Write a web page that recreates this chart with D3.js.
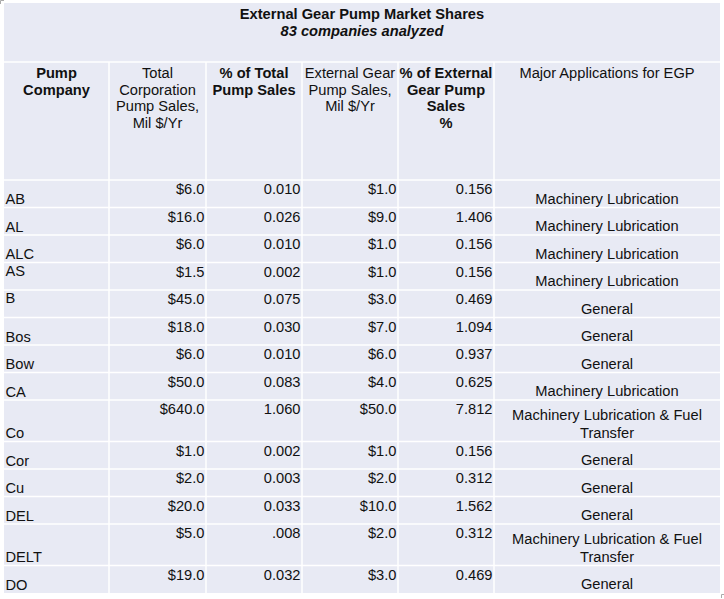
<!DOCTYPE html>
<html>
<head>
<meta charset="utf-8">
<script src="https://cdn.jsdelivr.net/npm/d3@7/dist/d3.min.js"></script>
<style>
  html, body { margin: 0; padding: 0; background: #fff; }
  svg { display: block; }
  text { font-family: "Liberation Sans", Arial, sans-serif; fill: #111; }
</style>
</head>
<body>
<svg id="chart" width="724" height="599"></svg>
<script>
// ---------- data ----------
const titleLines = ["External Gear Pump Market Shares", "83 companies analyzed"];
const headerLines = [
  ["Pump", "Company"],
  ["Total", "Corporation", "Pump Sales,", "Mil $/Yr"],
  ["% of Total", "Pump Sales"],
  ["External Gear", "Pump Sales,", "Mil $/Yr"],
  ["% of External", "Gear Pump", "Sales", "%"],
  ["Major Applications for EGP"]
];
const companies = ["AB", "AL", "ALC", "AS", "B", "Bos", "Bow", "CA", "Co", "Cor", "Cu", "DEL", "DELT", "DO"];
const totalSales = [6.0, 16.0, 6.0, 1.5, 45.0, 18.0, 6.0, 50.0, 640.0, 1.0, 2.0, 20.0, 5.0, 19.0];
const pctTotal = [0.010, 0.026, 0.010, 0.002, 0.075, 0.030, 0.010, 0.083, 1.060, 0.002, 0.003, 0.033, 0.008, 0.032];
const egpSales = [1.0, 9.0, 1.0, 1.0, 3.0, 7.0, 6.0, 4.0, 50.0, 1.0, 2.0, 10.0, 2.0, 3.0];
const pctEgp = [0.156, 1.406, 0.156, 0.156, 0.469, 1.094, 0.937, 0.625, 7.812, 0.156, 0.312, 1.562, 0.312, 0.469];
const applications = [
  "Machinery Lubrication", "Machinery Lubrication", "Machinery Lubrication", "Machinery Lubrication",
  "General", "General", "General", "Machinery Lubrication",
  "Machinery Lubrication & Fuel Transfer", "General", "General", "General",
  "Machinery Lubrication & Fuel Transfer", "General"
];

(function () {
// ---------- layout ----------
const svg = d3.select("#chart");
const FS = 14.67;
const xLeft = 4, xRight = 720, yTop = 3, titleBottom = 62, headerBottom = 180;
const colWidths = [105, 97, 96, 96, 96, 226];
const colEdges = [xLeft, ...d3.cumsum(colWidths).map(v => v + xLeft)];
const bg = "#E8EAF4";

// wrap helper using measured widths
const meas = svg.append("text").attr("font-size", FS).attr("visibility", "hidden");
function textW(s) { meas.text(s); return meas.node().getComputedTextLength(); }
function wrap(s, maxW) {
  const words = s.split(" "); const lines = []; let cur = "";
  words.forEach(w => {
    const t = cur ? cur + " " + w : w;
    if (textW(t) > maxW && cur) { lines.push(cur); cur = w; } else cur = t;
  });
  if (cur) lines.push(cur);
  return lines;
}

const rows = companies.map((c, i) => ({
  company: c,
  total: totalSales[i],
  pctTotal: pctTotal[i],
  egp: egpSales[i],
  pctEgp: pctEgp[i],
  appLines: wrap(applications[i], colWidths[5] - 12)
}));
meas.remove();

const singleH = 27.5, extraLineH = 14;
const heights = rows.map(r => singleH + (r.appLines.length - 1) * extraLineH);
const rowTops = [headerBottom, ...d3.cumsum(heights).map(v => v + headerBottom)];
const yBottom = rowTops[rowTops.length - 1];
rows.forEach((r, i) => { r.y0 = rowTops[i]; r.y1 = rowTops[i + 1]; });

// background
svg.append("rect").attr("x", xLeft).attr("y", yTop)
  .attr("width", xRight - xLeft).attr("height", yBottom - yTop).attr("fill", bg);

// grid lines (white)
const grid = svg.append("g").attr("stroke", "#fff").attr("stroke-width", 1.5);
[titleBottom, headerBottom, ...rowTops.slice(1, -1)].forEach(y => {
  grid.append("line").attr("x1", xLeft).attr("x2", xRight).attr("y1", y).attr("y2", y);
});
colEdges.slice(1, -1).forEach(x => {
  grid.append("line").attr("x1", x).attr("x2", x).attr("y1", titleBottom).attr("y2", yBottom);
});

// title
const cx = (xLeft + xRight) / 2;
svg.append("text").attr("x", cx).attr("y", 19).attr("text-anchor", "middle")
  .attr("font-size", FS).attr("font-weight", "bold").text(titleLines[0]);
svg.append("text").attr("x", cx).attr("y", 36).attr("text-anchor", "middle")
  .attr("font-size", FS).attr("font-weight", "bold").attr("font-style", "italic").text(titleLines[1]);

// headers
const boldHeader = [true, false, true, false, true, false];
headerLines.forEach((lines, ci) => {
  const x = (colEdges[ci] + colEdges[ci + 1]) / 2;
  const t = svg.append("text").attr("text-anchor", "middle").attr("font-size", FS)
    .attr("font-weight", boldHeader[ci] ? "bold" : "normal");
  lines.forEach((l, li) => {
    t.append("tspan").attr("x", x).attr("y", 78 + li * 16.7).text(l);
  });
});

// body
const fmtMoney = d3.format("$.1f");
const fmtPct = d3.format(".3f");
const noLeadingZero = new Set(["DELT"]);
const topAlignedNames = new Set(["AS", "B"]);

const g = svg.append("g").attr("font-size", FS);
rows.forEach(r => {
  g.append("text").attr("x", colEdges[0] + 1.5)
    .attr("y", topAlignedNames.has(r.company) ? r.y0 + 13 : r.y1 - 3.5)
    .text(r.company);
  const ny = r.y0 + 14;
  const pt = noLeadingZero.has(r.company) ? fmtPct(r.pctTotal).replace(/^0\./, ".") : fmtPct(r.pctTotal);
  [[1, fmtMoney(r.total)], [2, pt], [3, fmtMoney(r.egp)], [4, fmtPct(r.pctEgp)]].forEach(([ci, s]) => {
    g.append("text").attr("x", colEdges[ci + 1] - 1.5).attr("y", ny)
      .attr("text-anchor", "end").text(s);
  });
  const ax = (colEdges[5] + colEdges[6]) / 2;
  const n = r.appLines.length;
  r.appLines.forEach((l, li) => {
    g.append("text").attr("x", ax).attr("y", r.y1 - 4 - (n - 1 - li) * 17.5)
      .attr("text-anchor", "middle").text(l);
  });
});

// small selection corner marks
svg.append("path").attr("d", "M0.5,4 V0.5 H4").attr("fill", "none").attr("stroke", "#aaa");
svg.append("path").attr("d", "M721.5,598 V594.5 H725").attr("fill", "none").attr("stroke", "#aaa");
})();
</script>
</body>
</html>
